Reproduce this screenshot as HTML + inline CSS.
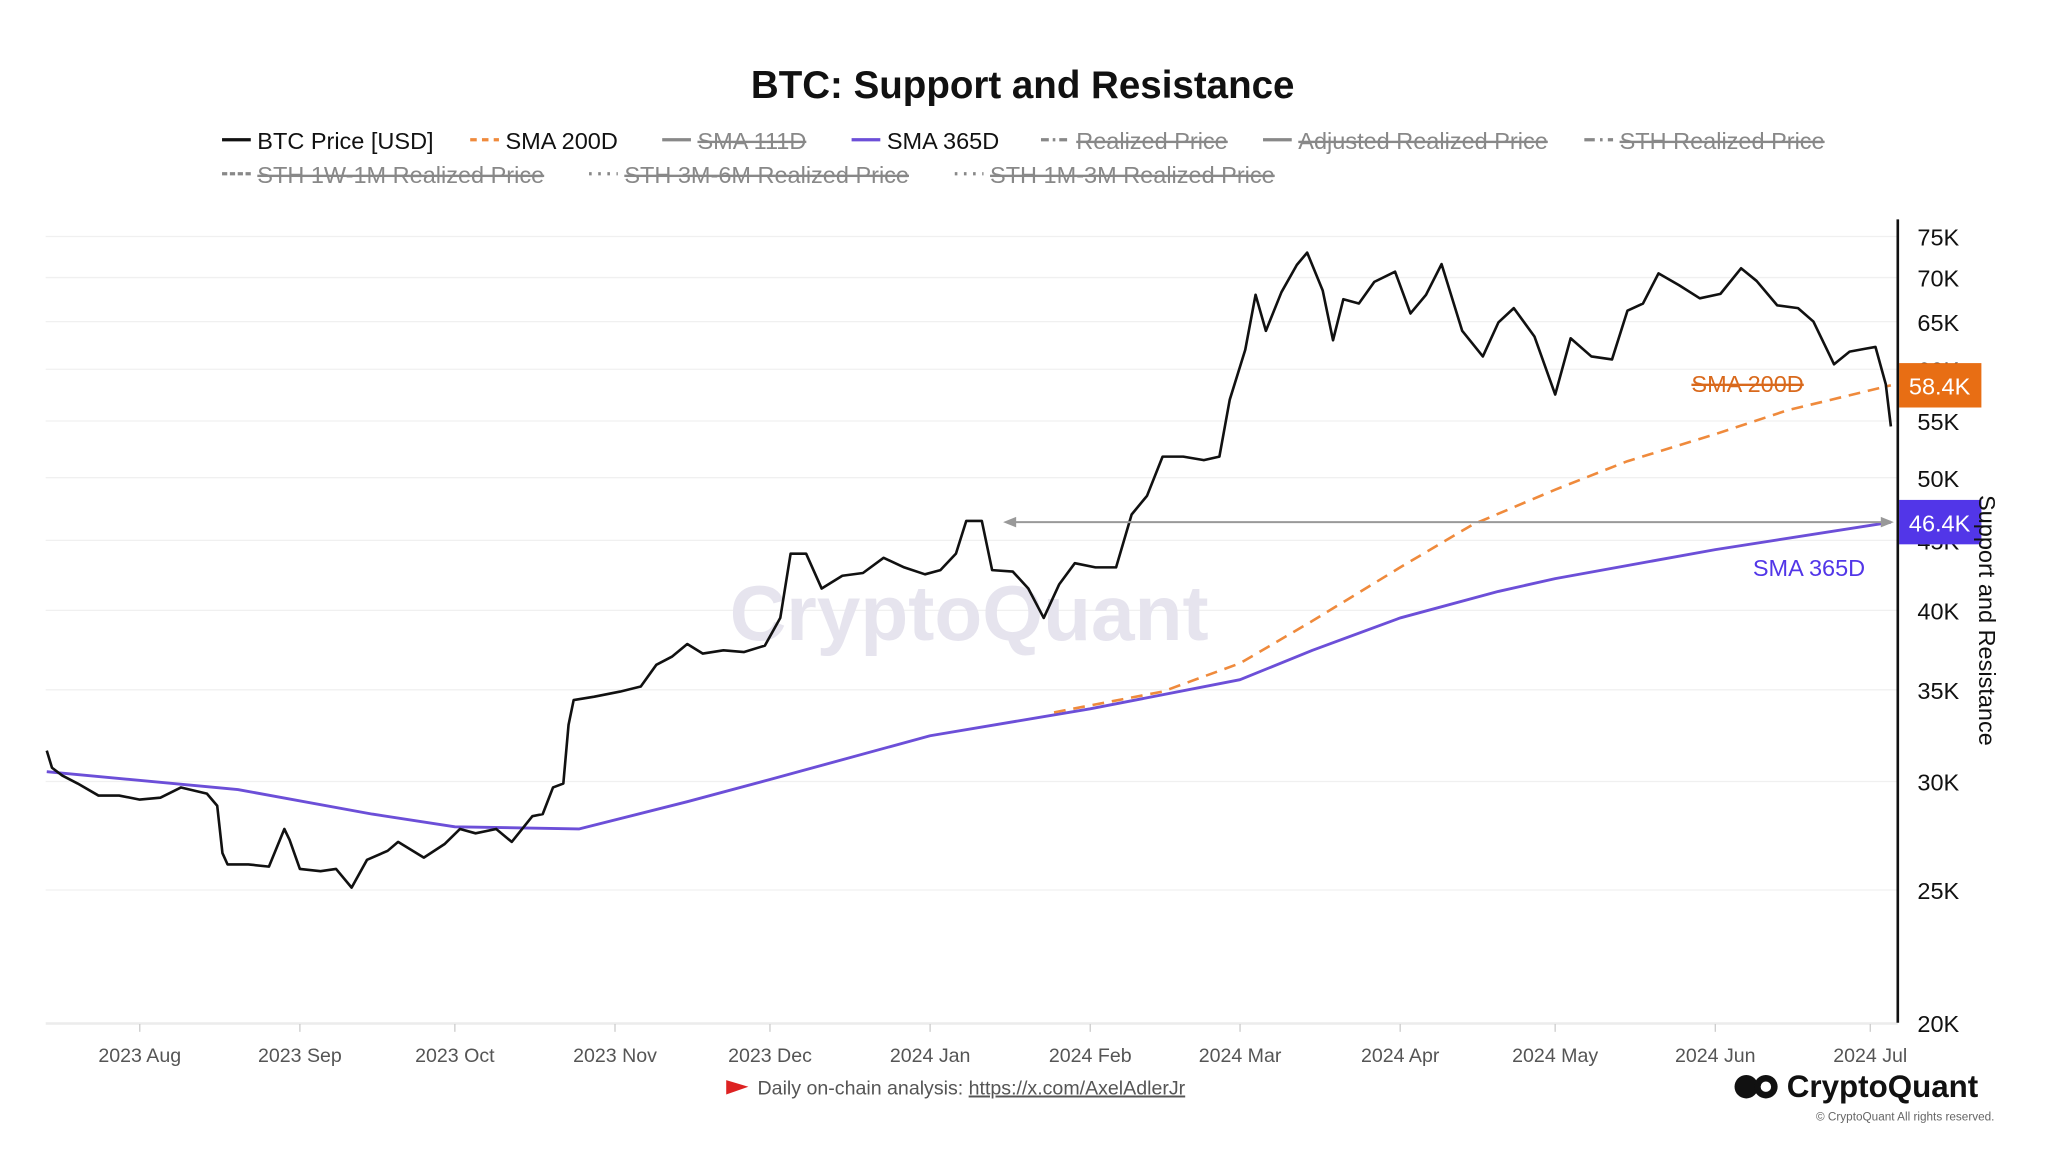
<!DOCTYPE html>
<html><head><meta charset="utf-8"><style>
html,body{margin:0;padding:0;background:#fff;}
svg{display:block;font-family:"Liberation Sans",sans-serif;}
</style></head><body>
<svg id="c" width="2048" height="1152" viewBox="0 0 1568 882" xmlns="http://www.w3.org/2000/svg">
<text x="783" y="75" text-anchor="middle" font-size="29.5" font-weight="bold" fill="#111">BTC: Support and Resistance</text>
<g id="legend" font-size="18"></g>
<g id="grid"></g>
<text x="742" y="490" text-anchor="middle" font-size="60" font-weight="bold" fill="#e6e4ee">CryptoQuant</text>
<g id="series"></g>
<g id="ann"></g>
<line x1="1453" y1="168" x2="1453" y2="783" stroke="#111" stroke-width="2"/>
<text transform="translate(1515,475) rotate(90)" text-anchor="middle" font-size="18" fill="#111">Support and Resistance</text>
<g>
<path d="M556 827 L573 832 L556 838 Z" fill="#d22"/>
<text x="580" y="838" font-size="15" fill="#555">Daily on-chain analysis: <tspan text-decoration="underline">https://x.com/AxelAdlerJr</tspan></text>
</g>
<g>
<circle cx="1337" cy="832" r="9" fill="#111"/><circle cx="1352" cy="832" r="9" fill="#111"/><circle cx="1352" cy="832" r="4" fill="#fff"/>
<text x="1368" y="840" font-size="24" font-weight="bold" fill="#111">CryptoQuant</text>
<text x="1527" y="858" text-anchor="end" font-size="9" fill="#666">© CryptoQuant All rights reserved.</text>
</g>
</svg>
<script>
const NS="http://www.w3.org/2000/svg";
const yTicks=[20000,25000,30000,35000,40000,45000,50000,55000,60000,65000,70000,75000];
const yTickLabels=["20K","25K","30K","35K","40K","45K","50K","55K","60K","65K","70K","75K"];
const xTickDates=["2023-08-01","2023-09-01","2023-10-01","2023-11-01","2023-12-01","2024-01-01","2024-02-01","2024-03-01","2024-04-01","2024-05-01","2024-06-01","2024-07-01"];
const xTickLabels=["2023 Aug","2023 Sep","2023 Oct","2023 Nov","2023 Dec","2024 Jan","2024 Feb","2024 Mar","2024 Apr","2024 May","2024 Jun","2024 Jul"];
const priceDates=["2023-07-14","2023-07-15","2023-07-17","2023-07-20","2023-07-24","2023-07-28","2023-08-01","2023-08-05","2023-08-09","2023-08-14","2023-08-16","2023-08-17","2023-08-18","2023-08-22","2023-08-26","2023-08-29","2023-08-30","2023-09-01","2023-09-05","2023-09-08","2023-09-11","2023-09-14","2023-09-18","2023-09-20","2023-09-25","2023-09-29","2023-10-02","2023-10-05","2023-10-09","2023-10-12","2023-10-16","2023-10-18","2023-10-20","2023-10-22","2023-10-23","2023-10-24","2023-10-28","2023-11-02","2023-11-06","2023-11-09","2023-11-12","2023-11-15","2023-11-18","2023-11-22","2023-11-26","2023-11-30","2023-12-03","2023-12-05","2023-12-08","2023-12-11","2023-12-15","2023-12-19","2023-12-23","2023-12-27","2023-12-31","2024-01-03","2024-01-06","2024-01-08","2024-01-11","2024-01-13","2024-01-17","2024-01-20","2024-01-23","2024-01-26","2024-01-29","2024-02-02","2024-02-06","2024-02-09","2024-02-12","2024-02-15","2024-02-19","2024-02-23","2024-02-26","2024-02-28","2024-03-02","2024-03-04","2024-03-06","2024-03-09","2024-03-12","2024-03-14","2024-03-17","2024-03-19","2024-03-21","2024-03-24","2024-03-27","2024-03-31","2024-04-03","2024-04-06","2024-04-09","2024-04-13","2024-04-17","2024-04-20","2024-04-23","2024-04-27","2024-05-01","2024-05-04","2024-05-08","2024-05-12","2024-05-15","2024-05-18","2024-05-21","2024-05-25","2024-05-29","2024-06-02","2024-06-06","2024-06-09","2024-06-13","2024-06-17","2024-06-20","2024-06-24","2024-06-27","2024-06-30","2024-07-02","2024-07-04","2024-07-05"];
const priceValues=[31600,30700,30300,29900,29300,29300,29100,29200,29700,29400,28800,26600,26100,26100,26000,27700,27200,25900,25800,25900,25100,26300,26700,27100,26400,27000,27700,27500,27700,27100,28300,28400,29700,29900,33000,34400,34600,34900,35200,36500,37000,37800,37200,37400,37300,37700,39500,44000,44000,41500,42400,42600,43700,43000,42500,42800,44000,46500,46500,42800,42700,41500,39500,41800,43300,43000,43000,47000,48500,51800,51800,51500,51800,57000,62000,68000,64000,68300,71500,73000,68500,63000,67500,67000,69500,70700,65900,68000,71600,64000,61300,64900,66500,63400,57500,63200,61300,61000,66200,67000,70500,69100,67600,68100,71100,69600,66800,66500,65000,60500,61800,62100,62300,58500,54500];
const sma365Dates=["2023-07-14","2023-08-20","2023-09-15","2023-10-01","2023-10-25","2023-11-15","2023-12-01","2024-01-01","2024-02-01","2024-03-01","2024-03-15","2024-04-01","2024-04-20","2024-05-01","2024-06-01","2024-07-05"];
const sma365Values=[30500,29600,28400,27800,27700,29000,30100,32400,33900,35600,37400,39500,41300,42200,44300,46400];
const sma200Dates=["2024-01-25","2024-02-15","2024-03-01","2024-03-15","2024-04-01","2024-04-15","2024-05-01","2024-05-15","2024-06-01","2024-06-15","2024-07-05"];
const sma200Values=[33700,34900,36600,39300,43000,46200,49000,51400,53800,56000,58400];

const DAY=86400000, base=Date.UTC(2023,7,1);
function d(s){const p=s.split("-");return (Date.UTC(+p[0],+p[1]-1,+p[2])-base)/DAY;}
function X(s){return 107+d(s)*3.955;}
function Y(v){return 783-455.4*Math.log(v/20000);}
const svg=document.getElementById("c");
function el(tag,attrs,parent,text){const e=document.createElementNS(NS,tag);for(const k in attrs)e.setAttribute(k,attrs[k]);if(text!=null)e.textContent=text;parent.appendChild(e);return e;}
const grid=document.getElementById("grid");
yTicks.forEach((v,i)=>{
  const y=Y(v);
  const g=el("line",{x1:35,x2:1453,y1:y,y2:y,stroke:"#f0f0f0","stroke-width":1},grid);
  
  
  const t=el("text",{x:1468,y:y+7,"font-size":18,fill:"#111"},grid,yTickLabels[i]);
  
  
});
const xl=el("line",{x1:35,x2:1453,y1:784,y2:784,stroke:"#e6e6e6"},grid);


xTickDates.forEach((s,i)=>{
  const x=X(s);
  const tk=el("line",{x1:x,x2:x,y1:784,y2:790,stroke:"#ccc"},grid);
  
  
  const t=el("text",{x:x,y:813,"text-anchor":"middle","font-size":15,fill:"#555"},grid,xTickLabels[i]);
  
  
});
function path(dates,vals){return dates.map((s,i)=>(i?"L":"M")+X(s).toFixed(1)+" "+Y(vals[i]).toFixed(1)).join(" ");}
const ser=document.getElementById("series");
const p365=el("path",{d:path(sma365Dates,sma365Values),fill:"none",stroke:"#6c4fd8","stroke-width":2.2,"stroke-linejoin":"round"},ser);


const p200=el("path",{d:path(sma200Dates,sma200Values),fill:"none",stroke:"#ef8a3c","stroke-width":2,"stroke-dasharray":"9 6"},ser);


const pp=el("path",{d:path(priceDates,priceValues),fill:"none",stroke:"#111","stroke-width":2,"stroke-linejoin":"round"},ser);



const ann=document.getElementById("ann");
const lastS=sma365Values[sma365Values.length-1], last2=sma200Values[sma200Values.length-1];
const ay=Y(lastS);
const ar=el("line",{x1:775,x2:1442,y1:ay,y2:ay,stroke:"#999","stroke-width":1.5},ann);


el("path",{d:`M768 ${ay} L778 ${ay-4} L778 ${ay+4} Z`,fill:"#999"},ann);
el("path",{d:`M1450 ${ay} L1440 ${ay-4} L1440 ${ay+4} Z`,fill:"#999"},ann);
const b1=el("rect",{x:1454,y:Y(last2)-17,width:63,height:34,fill:"#e86e14"},ann);


el("text",{x:1485,y:Y(last2)+7,"text-anchor":"middle","font-size":18,fill:"#fff"},ann,(last2/1000).toFixed(1)+"K");
const b2=el("rect",{x:1454,y:ay-17,width:63,height:34,fill:"#5236e8"},ann);


el("text",{x:1485,y:ay+7,"text-anchor":"middle","font-size":18,fill:"#fff"},ann,(lastS/1000).toFixed(1)+"K");
const l1=el("text",{x:1295,y:300,"font-size":18,fill:"#d9691c","text-decoration":"line-through"},ann,"SMA 200D");


const l2=el("text",{x:1342,y:441,"font-size":18,fill:"#5236e8"},ann,"SMA 365D");



const leg=document.getElementById("legend");
const items=[
 [170,108,"BTC Price [USD]","#111","",true],
 [360,108,"SMA 200D","#ef8a3c","5 4",true],
 [507,108,"SMA 111D","#888","",false],
 [652,108,"SMA 365D","#6c4fd8","",true],
 [797,108,"Realized Price","#888","6 3 2 3",false],
 [967,108,"Adjusted Realized Price","#888","",false],
 [1213,108,"STH Realized Price","#888","8 4 2 4",false],
 [170,134,"STH 1W-1M Realized Price","#888","4 2",false],
 [451,134,"STH 3M-6M Realized Price","#888","2 5",false],
 [731,134,"STH 1M-3M Realized Price","#888","2 5",false]];
items.forEach(it=>{
  const g=el("g",{},leg);
  
  
  el("line",{x1:it[0],x2:it[0]+22,y1:it[1]-1,y2:it[1]-1,stroke:it[3],"stroke-width":2.5,"stroke-dasharray":it[4]},g);
  el("text",{x:it[0]+27,y:it[1]+6,"font-size":18,fill:it[5]?"#111":"#888","text-decoration":it[5]?"none":"line-through"},g,it[2]);
});
</script>
</body></html>
